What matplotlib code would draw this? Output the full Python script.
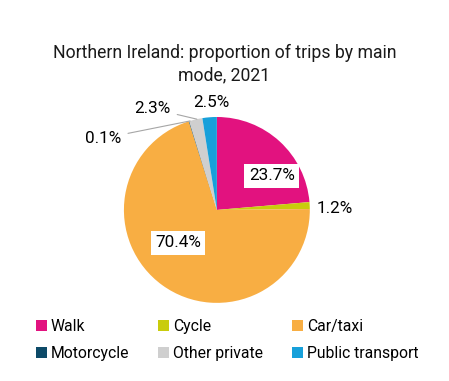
import numpy as np
import matplotlib.pyplot as plt
from matplotlib.patches import Patch

plt.rcParams['font.family'] = ['Roboto', 'DejaVu Sans']

modes = ['Walk', 'Cycle', 'Car/taxi', 'Motorcycle', 'Other private', 'Public transport']
shares = [23.7, 1.2, 70.4, 0.1, 2.3, 2.5]
colors = ['#E2127F', '#C9CC0C', '#F8AE43', '#0D4A68', '#CFCFCF', '#17A0DA']

fig = plt.figure(figsize=(4.49, 3.81), dpi=100)
ax = fig.add_axes([0.276, 0.205, 0.414, 0.488])

wedges, _ = ax.pie(shares, colors=colors, startangle=90, counterclock=False,
                   radius=1, wedgeprops=dict(linewidth=0))
ax.set_xlim(-1, 1)
ax.set_ylim(-1, 1)
ax.set_aspect('equal')

lbl = ['%.1f%%' % v for v in shares]
boxed = dict(boxstyle='square,pad=0.25', fc='white', ec='none')
fs = 12.3

# inside labels (white boxes)
ax.text(0.59, 0.366, lbl[0], ha='center', va='center', fontsize=fs, bbox=boxed)
ax.text(-0.42, -0.355, lbl[2], ha='center', va='center', fontsize=fs, bbox=boxed)

# outside labels
def edge(i):
    start = 90 - sum(shares[:i]) * 3.6
    mid = np.deg2rad(start - shares[i] * 1.8)
    return np.cos(mid), np.sin(mid)

ax.text(1.07, 0.02, lbl[1], ha='left', va='center', fontsize=fs)
ax.annotate(lbl[3], xy=edge(3), xytext=(-1.03, 0.77), ha='right', va='center',
            fontsize=fs, annotation_clip=False,
            arrowprops=dict(arrowstyle='-', color='#A6A6A6', lw=0.8,
                            shrinkA=3, shrinkB=0))
ax.annotate(lbl[4], xy=edge(4), xytext=(-0.5, 1.09), ha='right', va='center',
            fontsize=fs, annotation_clip=False,
            arrowprops=dict(arrowstyle='-', color='#A6A6A6', lw=0.8,
                            shrinkA=3, shrinkB=0))
ax.text(-0.06, 1.155, lbl[5], ha='center', va='center', fontsize=fs)

fig.suptitle('Northern Ireland: proportion of trips by main\nmode, 2021',
             x=0.5, y=0.886, fontsize=12.7, color='#1a1a1a', linespacing=1.35)

# legend filled row by row
order = [0, 3, 1, 4, 2, 5]
handles = [Patch(facecolor=colors[i], edgecolor='none') for i in order]
fig.legend(handles, [modes[i] for i in order], ncol=3, loc='upper left',
           bbox_to_anchor=(0.08, 0.163),
           frameon=False, fontsize=11.3, handlelength=0.7, handleheight=0.7,
           handletextpad=0.25, columnspacing=1.85, labelspacing=0.75,
           borderpad=0, borderaxespad=0)

fig.savefig('out.png', dpi=100)
